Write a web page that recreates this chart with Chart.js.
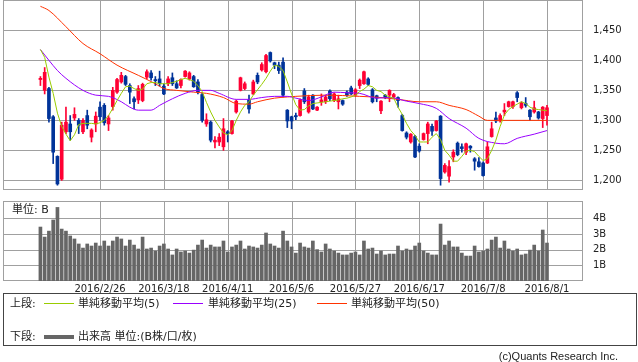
<!DOCTYPE html>
<html lang="ja">
<head>
<meta charset="utf-8">
<script src="https://cdn.jsdelivr.net/npm/chart.js@4.4.1/dist/chart.umd.min.js"></script>
<style>
  body { margin: 0; background: #fff; width: 638px; height: 362px; position: relative; overflow: hidden;
         font-family: 'DejaVu Sans', 'Noto Sans CJK JP', sans-serif; color: #222; }
  canvas { position: absolute; left: 0; }
  #price { top: 0; }
  #volume { top: 195px; }
  .txt { position: absolute; font-size: 11px; line-height: 13px; white-space: nowrap; }
  .ln { position: absolute; height: 1px; width: 30px; }
  #legend { position: absolute; left: 3px; top: 293px; width: 632px; height: 51px; border: 1px solid #444; }
</style>
</head>
<body>
<canvas id="price" width="638" height="191"></canvas>
<canvas id="volume" width="638" height="100"></canvas>
<div class="txt" style="left:12px; top:203px;">単位: B</div>

<div id="legend">
  <div class="txt" style="left:6px; top:3px;">上段:</div>
  <div class="ln" style="left:40px; top:9px; background:#99cc00;"></div>
  <div class="txt" style="left:74px; top:3px;">単純移動平均(5)</div>
  <div class="ln" style="left:169px; top:9px; background:#9900ff;"></div>
  <div class="txt" style="left:204px; top:3px;">単純移動平均(25)</div>
  <div class="ln" style="left:313px; top:9px; background:#ff3300;"></div>
  <div class="txt" style="left:347px; top:3px;">単純移動平均(50)</div>
  <div class="txt" style="left:6px; top:36px;">下段:</div>
  <div class="ln" style="left:40px; top:41px; height:4px; background:#666;"></div>
  <div class="txt" style="left:74px; top:36px;">出来高 単位:(B株/口/枚)</div>
</div>
<div class="txt" style="right:20px; top:350px; font-family:'Liberation Sans', sans-serif;">(c)Quants Research Inc.</div>

<script>
// ローソク足 (120営業日, 2016/2/5 - 2016/8/1)
const open = [1368,1350,1353,1306,1240,1202,1281,1294,1304,1300,1281,1308,1272,1294,1322,1325,1294,1323,1347,1364,
  1373,1358,1336,1334,1333,1372,1379,1368,1369,1357,1361,1371,1361,1358,1373,1369,1373,1364,1343,1294,
  1297,1264,1264,1256,1281,1278,1314,1350,1353,1334,1344,1375,1384,1381,1413,1396,1392,1397,1317,1306,
  1308,1308,1349,1314,1342,1317,1331,1331,1349,1333,1331,1333,1347,1354,1342,1358,1361,1369,1351,1341,
  1316,1342,1342,1339,1338,1308,1279,1264,1273,1257,1268,1278,1290,1283,1307,1214,1207,1239,1262,1256,
  1247,1257,1236,1231,1229,1229,1273,1304,1299,1314,1323,1323,1346,1321,1328,1317,1314,1314,1303,1308];
const high = [1373,1388,1355,1308,1241,1297,1322,1308,1321,1303,1303,1317,1286,1314,1331,1328,1308,1355,1370,1380,
  1375,1361,1339,1358,1362,1384,1383,1373,1382,1361,1373,1379,1366,1369,1383,1381,1375,1368,1346,1311,
  1299,1273,1278,1303,1283,1300,1334,1372,1364,1342,1367,1379,1396,1410,1414,1397,1397,1404,1318,1307,
  1312,1336,1353,1342,1343,1323,1344,1342,1351,1346,1342,1334,1349,1357,1353,1369,1382,1371,1353,1342,
  1333,1343,1351,1345,1339,1310,1281,1278,1275,1261,1279,1297,1294,1300,1308,1228,1233,1251,1264,1261,
  1262,1258,1238,1238,1231,1264,1297,1314,1311,1328,1332,1332,1348,1331,1338,1318,1332,1315,1323,1325];
const low = [1358,1344,1297,1228,1192,1200,1278,1267,1300,1278,1278,1286,1264,1281,1300,1292,1283,1317,1345,1362,
  1358,1328,1319,1328,1331,1369,1367,1358,1357,1343,1358,1358,1353,1354,1372,1367,1355,1344,1297,1290,
  1264,1254,1258,1250,1264,1277,1312,1349,1351,1312,1343,1361,1382,1379,1397,1386,1378,1339,1288,1286,
  1301,1307,1328,1312,1318,1316,1325,1328,1333,1331,1319,1325,1340,1343,1340,1353,1360,1358,1329,1331,
  1311,1336,1331,1337,1322,1282,1269,1262,1238,1247,1267,1261,1275,1282,1192,1212,1197,1231,1241,1247,
  1243,1247,1217,1222,1207,1228,1272,1296,1297,1308,1322,1320,1331,1319,1322,1300,1312,1302,1288,1292];
const close = [1370,1380,1303,1247,1194,1292,1297,1281,1310,1292,1300,1292,1284,1307,1306,1296,1304,1350,1368,1375,
  1360,1347,1331,1353,1360,1381,1371,1366,1361,1344,1369,1361,1354,1368,1382,1379,1356,1347,1300,1301,
  1267,1267,1272,1286,1278,1299,1332,1371,1361,1319,1364,1364,1393,1408,1399,1392,1383,1342,1299,1299,
  1306,1334,1331,1339,1319,1322,1334,1339,1336,1344,1336,1327,1342,1344,1351,1367,1381,1360,1331,1337,
  1332,1338,1350,1343,1333,1283,1272,1277,1239,1249,1278,1294,1282,1299,1203,1225,1223,1247,1243,1253,
  1261,1254,1232,1223,1208,1256,1286,1299,1308,1317,1331,1331,1338,1329,1325,1306,1321,1304,1322,1321];

// 出来高 (B)
const volume = [3.44,2.80,3.18,3.89,4.69,3.31,3.18,2.87,2.68,2.36, 2.10,2.36,2.23,2.42,2.23,2.55,2.23,2.55,2.80,2.68,
  2.23,2.61,2.29,2.04,2.80,2.04,2.10,1.91,2.23,2.36, 2.04,1.66,2.04,1.85,1.91,1.78,1.97,2.29,2.61,2.10,
  2.29,2.17,2.17,2.55,1.85,2.17,2.29,2.55,2.04,2.23, 2.17,2.10,2.29,3.06,2.36,2.23,2.10,3.18,2.55,2.17,
  1.78,2.42,2.17,2.10,2.55,2.00,1.85,2.36,2.04,1.91, 1.78,1.66,1.66,1.78,1.85,1.66,2.55,2.04,2.10,1.72,
  1.91,1.66,1.72,1.72,2.23,1.91,2.04,1.97,2.23,2.42, 1.91,1.78,1.66,1.66,3.63,2.29,2.55,2.17,2.17,1.78,
  1.59,1.59,2.23,1.85,1.91,2.04,2.61,2.80,2.10,2.55, 2.04,1.91,2.04,1.66,1.72,1.97,2.29,1.91,3.25,2.42];

// 移動平均
const ma5 = [1418,1405,1372,1345,1312,1290,1277,1266,1276,1293,1295,1295,1295,1294,1296,1300,1308,1320,1333,1345,
  1356,1357,1353,1350,1352,1361,1363,1363,1361,1361,1361,1363,1365,1368,1370,1368,1365,1358,1348,1330,
  1314,1300,1289,1279,1276,1283,1300,1314,1325,1331,1342,1351,1360,1370,1382,1392,1390,1383,1364,1344,
  1326,1317,1318,1324,1328,1329,1330,1331,1332,1333,1334,1336,1337,1339,1342,1348,1352,1358,1356,1350,
  1348,1342,1339,1337,1322,1310,1295,1283,1275,1264,1264,1264,1272,1278,1268,1250,1242,1232,1232,1240,
  1249,1250,1248,1240,1233,1236,1250,1267,1290,1309,1318,1323,1327,1331,1328,1322,1319,1318,1317,1316];
const ma25Idx = [0,2,4,6,10,13,16,19,21,23,26,28,31,34,37,40,42,46,49,52,55,58,60,63,66,69,72,75,79,82,86,89,93,96,100,103,107,109,112,116,119];
const ma25Val = [1418,1400,1383,1370,1350,1342,1340,1331,1322,1317,1317,1325,1336,1345,1350,1350,1345,1335,1335,1338,1340,1340,1337,1333,1339,1347,1346,1345,1337,1338,1332,1328,1320,1303,1287,1270,1262,1261,1270,1277,1283];
const ma50Idx = [0,2,6,10,14,18,23,27,29,32,36,39,43,46,49,51,55,58,60,67,75,80,84,89,93,96,100,103,105,119];
const ma50Val = [1490,1483,1456,1428,1411,1392,1375,1361,1353,1350,1347,1345,1338,1328,1327,1331,1337,1339,1340,1342,1340,1338,1335,1331,1331,1325,1318,1307,1300,1300];

// 目盛り
const tickIndex = [14, 29, 44, 59, 74, 89, 104, 119];
const tickLabels = ["2016/2/26", "2016/3/18", "2016/4/11", "2016/5/6", "2016/5/27", "2016/6/17", "2016/7/8", "2016/8/1"];
const priceTicks = [1200, 1250, 1300, 1350, 1400, 1450];
const volumeTicks = [1, 2, 3, 4];

const gridColor = "#a0a0a0";
const upColor = "#ff0033";
const downColor = "#003399";
const xMin = -8.79, xMax = 127.46;
const tickFont = { family: "'DejaVu Sans', 'Noto Sans CJK JP', sans-serif", size: 10 };

const candleColors = close.map((c, i) => c >= open[i] ? upColor : downColor);

// 枠線と目盛り線
const frame = {
  id: "frame",
  beforeDatasetsDraw(chart) {
    const { ctx, chartArea: a, scales } = chart;
    const l = Math.round(a.left) + 0.5, r = Math.round(a.right) - 0.5;
    const t = Math.round(a.top) + 0.5, b = Math.round(a.bottom) - 0.5;
    ctx.save();
    ctx.strokeStyle = gridColor;
    ctx.lineWidth = 1;
    ctx.beginPath();
    scales.x.ticks.forEach(tk => {
      const px = Math.round(scales.x.getPixelForValue(tk.value)) + 0.5;
      ctx.moveTo(px, t); ctx.lineTo(px, b);
    });
    scales.y.ticks.forEach(tk => {
      const py = Math.round(scales.y.getPixelForValue(tk.value)) + 0.5;
      ctx.moveTo(l, py); ctx.lineTo(r, py);
    });
    ctx.stroke();
    ctx.strokeRect(l, t, r - l, b - t);
    ctx.restore();
  }
};

function xScale(showLabels) {
  return {
    type: "linear", min: xMin, max: xMax, offset: false,
    grid: { display: false, drawTicks: false },
    border: { display: false },
    ticks: {
      display: showLabels, padding: 2, maxRotation: 0, autoSkip: false,
      color: "#222", font: tickFont,
      callback: v => tickLabels[tickIndex.indexOf(v)]
    },
    afterBuildTicks: s => { s.ticks = tickIndex.map(v => ({ value: v })); },
    afterFit: s => { s.height = showLabels ? 14 : 0; s.paddingLeft = 0; s.paddingRight = 0; }
  };
}

function yScale(min, max, ticks, fmt) {
  return {
    position: "right", min: min, max: max,
    grid: { display: false, drawTicks: false },
    border: { display: false },
    ticks: { padding: 10, color: "#222", font: tickFont, callback: fmt },
    afterBuildTicks: s => { s.ticks = ticks.map(v => ({ value: v })); },
    afterFit: s => { s.width = 55; s.paddingTop = 0; s.paddingBottom = 0; }
  };
}

new Chart(document.getElementById("price"), {
  type: "bar",
  data: {
    datasets: [
      { type: "line", data: ma5.map((v, i) => ({ x: i, y: v })), borderColor: "#99cc00", borderWidth: 1, pointRadius: 0, order: 0 },
      { type: "line", data: ma25Idx.map((x, i) => ({ x: x, y: ma25Val[i] })), borderColor: "#9900ff", borderWidth: 1, pointRadius: 0, cubicInterpolationMode: "monotone", order: 0 },
      { type: "line", data: ma50Idx.map((x, i) => ({ x: x, y: ma50Val[i] })), borderColor: "#ff3300", borderWidth: 1, pointRadius: 0, cubicInterpolationMode: "monotone", order: 0 },
      { data: low.map((v, i) => ({ x: i, y: [v, high[i]] })), backgroundColor: candleColors, barThickness: 1, grouped: false, order: 3 },
      { data: open.map((v, i) => ({ x: i, y: [v, close[i]] })), backgroundColor: candleColors, barThickness: 3, grouped: false, order: 2 }
    ]
  },
  options: {
    responsive: false,
    animation: false,
    layout: { padding: { left: 3, top: 0, right: 0, bottom: 1 } },
    plugins: { legend: { display: false }, tooltip: { enabled: false } },
    scales: {
      x: xScale(false),
      y: yScale(1184, 1500.5, priceTicks, v => v.toLocaleString("en-US"))
    }
  },
  plugins: [frame]
});

new Chart(document.getElementById("volume"), {
  type: "bar",
  data: {
    datasets: [
      { data: volume.map((v, i) => ({ x: i, y: v })), backgroundColor: "#666666", barThickness: 3, grouped: false }
    ]
  },
  options: {
    responsive: false,
    animation: false,
    layout: { padding: { left: 3, top: 6, right: 0, bottom: 0 } },
    plugins: { legend: { display: false }, tooltip: { enabled: false } },
    scales: {
      x: xScale(true),
      y: yScale(0, 5.1, volumeTicks, v => v + "B")
    }
  },
  plugins: [frame]
});
</script>
</body>
</html>
